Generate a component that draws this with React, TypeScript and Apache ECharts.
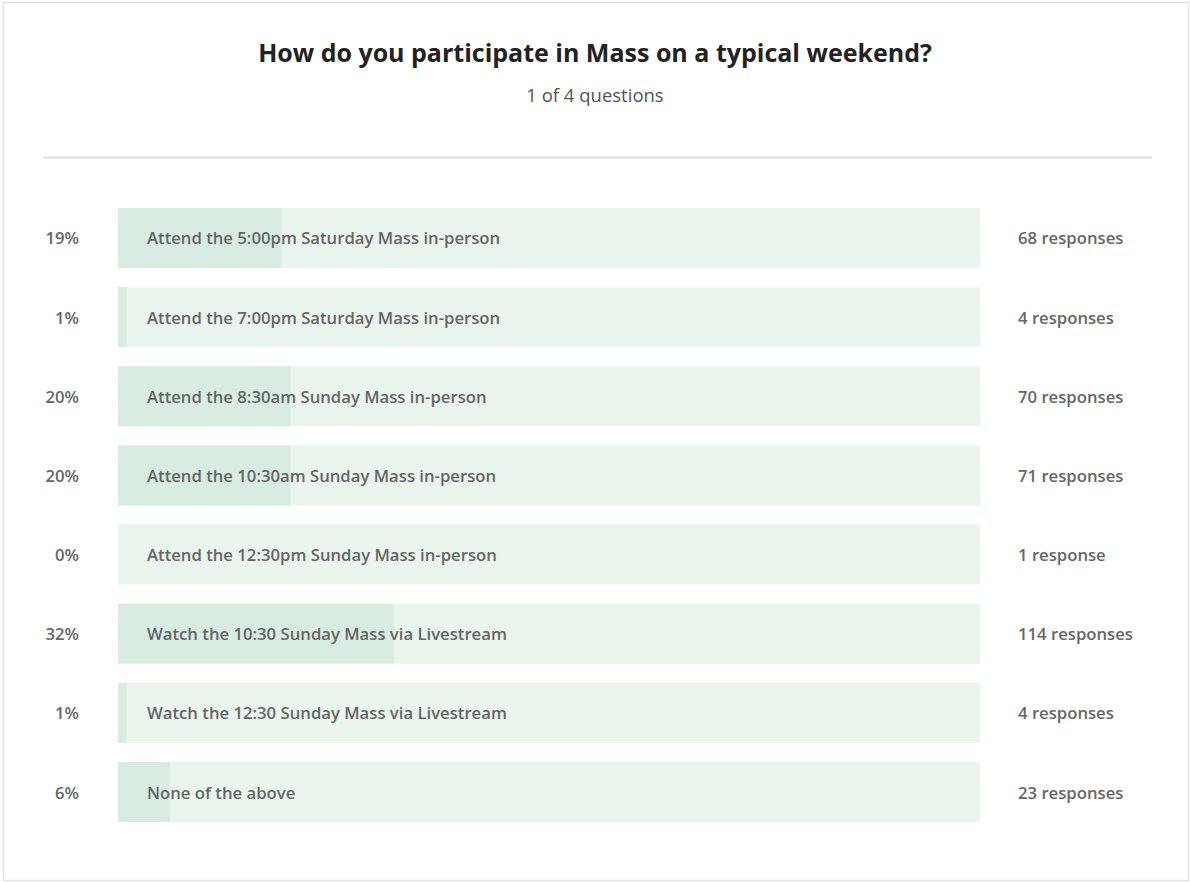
import React, { useEffect, useRef } from "react";
import * as echarts from "echarts";

const titleText = "How do you participate in Mass on a typical weekend?";
const subtitleText = "1 of 4 questions";

const categories = [
  "Attend the 5:00pm Saturday Mass in-person",
  "Attend the 7:00pm Saturday Mass in-person",
  "Attend the 8:30am Sunday Mass in-person",
  "Attend the 10:30am Sunday Mass in-person",
  "Attend the 12:30pm Sunday Mass in-person",
  "Watch the 10:30 Sunday Mass via Livestream",
  "Watch the 12:30 Sunday Mass via Livestream",
  "None of the above",
];
const percents = [19, 1, 20, 20, 0, 32, 1, 6];
const responses = [68, 4, 70, 71, 1, 114, 4, 23];

const percentLabels = percents.map((p) => p + "%");
const responseLabels = responses.map((n) => n + (n === 1 ? " response" : " responses"));

const FONT = "'Open Sans', sans-serif";
const LABEL_COLOR = "#666666";
const LABEL_SIZE = 16.7;

export default function App() {
  const ref = useRef<HTMLDivElement>(null);

  useEffect(() => {
    document.body.style.margin = "0";
    if (!ref.current) return;
    const chart = echarts.init(ref.current, null, { renderer: "svg" });
    chart.setOption({
      animation: false,
      backgroundColor: "#ffffff",
      title: {
        text: titleText,
        subtext: subtitleText,
        left: "center",
        top: 34,
        itemGap: 21,
        textStyle: { fontFamily: FONT, fontSize: 25, fontWeight: 700, color: "#222222" },
        subtextStyle: { fontFamily: FONT, fontSize: 18.5, fontWeight: 400, color: "#555555" },
      },
      graphic: [
        {
          type: "rect",
          shape: { x: 3.5, y: 2.5, width: 1185, height: 878 },
          style: { fill: "none", stroke: "#e3e3e3", lineWidth: 1.5 },
          silent: true,
        },
        {
          type: "line",
          shape: { x1: 43, y1: 157.5, x2: 1152, y2: 157.5 },
          style: { stroke: "#dddddd", lineWidth: 2 },
          silent: true,
        },
      ],
      grid: { left: 118, right: 210, top: 198.4, bottom: 50.4 },
      xAxis: { type: "value", min: 0, max: 100, show: false },
      yAxis: [
        {
          type: "category",
          data: categories,
          inverse: true,
          axisLine: { show: false },
          axisTick: { show: false },
          splitLine: { show: false },
          axisLabel: {
            formatter: (_v: string, i: number) => percentLabels[i],
            margin: 39,
            color: LABEL_COLOR,
            fontFamily: FONT,
            fontWeight: 600,
            fontSize: LABEL_SIZE,
          },
        },
        {
          type: "category",
          data: responseLabels,
          inverse: true,
          position: "right",
          axisLine: { show: false },
          axisTick: { show: false },
          splitLine: { show: false },
          axisLabel: {
            margin: 38,
            color: LABEL_COLOR,
            fontFamily: FONT,
            fontWeight: 600,
            fontSize: LABEL_SIZE,
          },
        },
      ],
      series: [
        {
          type: "bar",
          yAxisIndex: 0,
          data: percents,
          barWidth: 60,
          showBackground: true,
          backgroundStyle: { color: "#eaf5ee" },
          itemStyle: { color: "#d8ece1" },
          label: {
            show: true,
            position: "insideLeft",
            distance: 29,
            formatter: (p: any) => p.name,
            color: LABEL_COLOR,
            fontFamily: FONT,
            fontWeight: 600,
            fontSize: LABEL_SIZE,
          },
        },
      ],
    });
    return () => chart.dispose();
  }, []);

  return <div ref={ref} style={{ width: 1190, height: 882 }} />;
}
